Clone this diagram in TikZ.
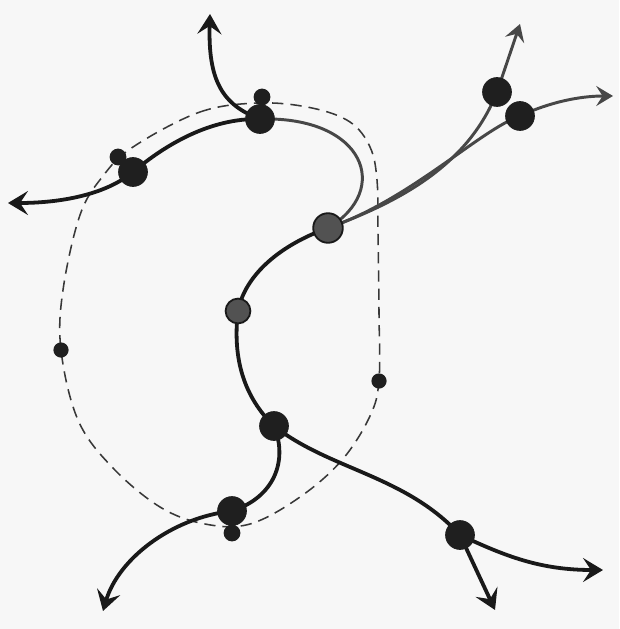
\documentclass[tikz,border=0pt]{standalone}
\usetikzlibrary{arrows.meta}
\pgfdeclarelayer{back}
\pgfdeclarelayer{bg}
\pgfsetlayers{back,bg,main}
\begin{document}
\begin{tikzpicture}[x={(0.025cm,0)},y={(0,-0.025cm)},
  dotbig/.style={circle,fill=black!88,draw=black!88,line width=0.6pt,inner sep=0pt,minimum size=0.72cm},
  dotsmall/.style={circle,fill=black!88,inner sep=0pt,minimum size=0.42cm},
  dotgray/.style={circle,fill=black!68,draw=black!90,line width=1.3pt,inner sep=0pt,minimum size=0.74cm},
  curve/.style={line width=2.7pt,black!90,line cap=round},
  thin/.style={line width=2.1pt,black!72,line cap=round},
  tip/.style={-{Stealth[length=0.5cm,width=0.6cm,inset=0.2cm]}},
  tipsmall/.style={-{Stealth[length=0.42cm,width=0.5cm,inset=0.16cm]}},
  loop/.style={line width=1.1pt,black!78,dash pattern=on 8pt off 5pt}]
\begin{pgfonlayer}{back}
\fill[black!3] (0,0) rectangle (619,629);
\end{pgfonlayer}
\useasboundingbox (0,0) rectangle (619,629);
% nodes
\node[dotbig] (A) at (133,172) {};
\node[dotsmall] (a) at (118,157) {};
\node[dotbig] (B) at (260,119) {};
\node[dotsmall] (b) at (262,97) {};
\node[dotgray] (C) at (328,228) {};
\node[dotbig] (D) at (497,92) {};
\node[dotbig] (E) at (520,116) {};
\node[dotgray,minimum width=0.62cm,minimum height=0.56cm] (F) at (238,311) {};
\node[dotbig] (G) at (274,426) {};
\node[dotbig] (H) at (232,511) {};
\node[dotsmall] (h) at (232,533) {};
\node[dotbig] (I) at (460,535) {};
\node[dotsmall,minimum size=0.38cm] (s) at (61,350) {};
\node[dotsmall,minimum size=0.38cm] (t) at (379,381) {};
\coordinate (tT) at (210,14);
\coordinate (tL) at (8,203);
\coordinate (tUR) at (520,24);
\coordinate (tR) at (613,96);
\coordinate (tBL) at (103,611);
\coordinate (tB) at (495,610);
\coordinate (tR2) at (603,570);
\begin{pgfonlayer}{bg}
% dashed loop
\draw[loop] plot[smooth cycle,tension=0.6] coordinates {(133,147) (200,112) (260,103) (312,108) (350,122) (370,147) (377,180) (378,233) (379,313) (379,380) (370,416) (342,460) (300,497) (250,524) (205,524) (160,507) (112,467) (78,420) (61,350) (63,290) (80,215) (103,176)};
% curves
\draw[curve,tip] (B.center) .. controls (222,105) and (208,80) .. (tT);
\draw[curve] (A.center) .. controls (165,145) and (210,118) .. (B.center);
\draw[curve,tip] (A.center) .. controls (105,195) and (60,203) .. (tL);
\draw[thin] (B.center) .. controls (365,116) and (392,190) .. (C.center);
\draw[thin] (C.center) .. controls (410,198) and (470,160) .. (D.center);
\draw[thin] (C.center) .. controls (410,200) and (480,130) .. (E.center);
\draw[thin,tipsmall] (D.center) -- (tUR);
\draw[thin,tipsmall] (E.center) .. controls (550,102) and (580,96) .. (tR);
\draw[curve] (C.center) .. controls (280,245) and (245,275) .. (F.center);
\draw[curve] (F.center) .. controls (232,360) and (245,398) .. (G.center);
\draw[curve] (G.center) .. controls (288,460) and (275,497) .. (H.center);
\draw[curve,tip] (H.center) .. controls (170,518) and (118,560) .. (tBL);
\draw[curve] (G.center) .. controls (330,470) and (405,475) .. (I.center);
\draw[curve,tip] (I.center) .. controls (505,556) and (540,570) .. (tR2);
\draw[curve,tip] (I.center) -- (tB);
\end{pgfonlayer}
\end{tikzpicture}
\end{document}
